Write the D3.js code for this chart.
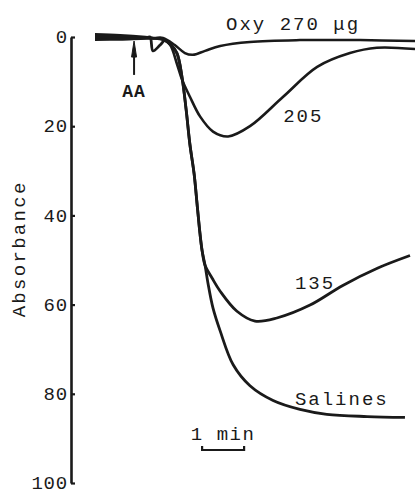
<!DOCTYPE html>
<html>
<head>
<meta charset="utf-8">
<script src="https://cdn.jsdelivr.net/npm/d3@7"></script>
<style>
  html, body { margin: 0; padding: 0; background: #fff; }
  svg { display: block; }
  text { font-family: "Liberation Mono", "Courier New", monospace; fill: #1a1a1a; }
</style>
</head>
<body>
<svg id="chart" width="415" height="494"></svg>
<script>
// ---- data (time in minutes, absorbance units) ----
const yTicks = [0, 20, 40, 60, 80, 100];

const oxyTime = [0, 0.6, 1.2, 1.4, 1.62, 1.9, 2.14, 2.33, 2.62, 2.98, 3.69, 4.88, 6.31, 7.62];
const oxyAbs  = [-0.6, -0.4, 0, 0.2, 0.2, 1.8, 3.6, 4.0, 3.1, 2.0, 1.1, 0.7, 0.7, 0.9];

const d205Time = [0, 0.6, 1.2, 1.4, 1.62, 1.79, 1.95, 2.07, 2.26, 2.5, 2.81, 3.17, 3.69, 4.48, 5.29, 6.07, 6.71, 7.62];
const d205Abs  = [-0.2, -0.1, 0.2, 0.3, 0.5, 1.8, 6.0, 9.5, 13.4, 17.8, 21.2, 22.3, 20.0, 13.4, 6.7, 3.6, 2.4, 2.7];

const d135Time = [0, 0.6, 1.2, 1.31, 1.38, 1.55, 1.67, 1.79, 1.95, 2.07, 2.17, 2.26, 2.36, 2.43, 2.50, 2.55, 2.62, 2.79, 2.98, 3.38, 3.81, 4.33, 5.12, 5.90, 6.71, 7.5];
const d135Abs  = [0.2, 0.2, 0.2, 0, 3.1, 1.8, 0.7, 1.6, 3.6, 8.9, 16.3, 24.1, 30.7, 37.4, 44.1, 47.9, 51.2, 54.1, 57.0, 61.5, 63.7, 63.0, 60.1, 55.7, 51.9, 49.0];

const salTime = [0, 0.6, 1.2, 1.4, 1.62, 1.79, 1.95, 2.07, 2.17, 2.26, 2.36, 2.43, 2.50, 2.55, 2.62, 2.69, 2.81, 2.98, 3.29, 3.69, 4.24, 4.88, 5.52, 6.48, 7.38];
const salAbs  = [0.6, 0.5, 0.3, 0.3, 0.6, 1.6, 3.6, 8.9, 16.3, 24.1, 30.7, 37.4, 44.1, 47.9, 51.2, 55.2, 60.8, 65.9, 73.5, 78.2, 81.5, 83.5, 84.6, 85.1, 85.3];

const seriesLabels = ["Oxy 270 \u03bcg", "205", "135", "Salines"];
const labelTime = [3.12, 4.48, 4.76, 4.76];
const labelAbs  = [-1.6, 19.0, 56.5, 82.4];

const aaTime = 0.93;         // injection of AA
const scaleBarStart = 2.55;  // 1 min scale bar
const scaleBarLen = 1;

// ---- layout ----
const svg = d3.select("#chart");
const x = d3.scaleLinear().domain([0, 7.5]).range([95, 410]);
const y = d3.scaleLinear().domain([0, 100]).range([37, 483]);
const ink = "#1a1a1a";

// axis
const axis = d3.axisLeft(y).tickValues(yTicks).tickSizeInner(-4).tickSizeOuter(0).tickPadding(3);
const ga = svg.append("g").attr("transform", "translate(71,0)").call(axis);
ga.select(".domain").attr("stroke", ink).attr("stroke-width", 2.6);
ga.selectAll(".tick line").attr("stroke", ink).attr("stroke-width", 2.2);
ga.selectAll(".tick text")
  .style("font-family", '"Liberation Mono", "Courier New", monospace')
  .style("font-size", "19px").style("letter-spacing", "0.8px")
  .attr("fill", ink).attr("dy", "0.3em");

// y label
svg.append("text")
  .attr("transform", `translate(25,${y(47.5)}) rotate(-90)`)
  .attr("text-anchor", "middle")
  .style("font-size", "19px").style("letter-spacing", "2.3px")
  .text("Absorbance");

// curves
const line = d3.line().x(d => x(d[0])).y(d => y(d[1])).curve(d3.curveCatmullRom.alpha(0.5));
const series = [
  [oxyTime, oxyAbs, 2.5],
  [d205Time, d205Abs, 2.6],
  [d135Time, d135Abs, 2.8],
  [salTime, salAbs, 2.8]
];
series.forEach(([t, a, w]) => {
  svg.append("path")
    .datum(t.map((v, i) => [v, a[i]]))
    .attr("d", line)
    .attr("fill", "none")
    .attr("stroke", ink)
    .attr("stroke-width", w)
    .attr("stroke-linejoin", "round")
    .attr("stroke-linecap", "butt");
});

// series labels
seriesLabels.forEach((s, i) => {
  svg.append("text")
    .attr("x", x(labelTime[i])).attr("y", y(labelAbs[i]))
    .style("font-size", "19px").style("letter-spacing", "2px")
    .text(s);
});

// AA arrow
const ax = x(aaTime);
svg.append("line")
  .attr("x1", ax).attr("x2", ax).attr("y1", y(8.5)).attr("y2", y(2.5))
  .attr("stroke", ink).attr("stroke-width", 2);
svg.append("path")
  .attr("d", `M${ax},${y(0.9)} L${ax - 2.5},${y(4.5)} L${ax + 2.5},${y(4.5)} Z`)
  .attr("fill", ink).attr("stroke", ink).attr("stroke-width", 1);
svg.append("text")
  .attr("x", ax).attr("y", y(13.5))
  .attr("text-anchor", "middle")
  .style("font-size", "18px").style("font-weight", "bold").style("letter-spacing", "1px")
  .text("AA");

// 1 min scale bar
const sb0 = x(scaleBarStart), sb1 = x(scaleBarStart + scaleBarLen), sby = 450;
svg.append("path")
  .attr("d", `M${sb0},${sby - 4} L${sb0},${sby} L${sb1},${sby} L${sb1},${sby - 4}`)
  .attr("fill", "none").attr("stroke", ink).attr("stroke-width", 2.2);
svg.append("text")
  .attr("x", (sb0 + sb1) / 2).attr("y", 440)
  .attr("text-anchor", "middle")
  .style("font-size", "19px").style("letter-spacing", "1.5px")
  .text("1 min");
</script>
</body>
</html>
